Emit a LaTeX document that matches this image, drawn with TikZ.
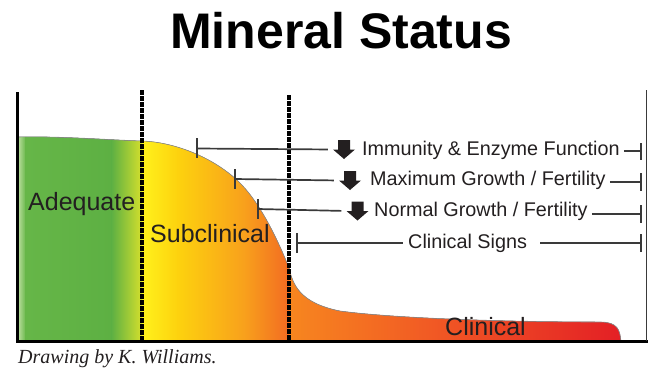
\documentclass[tikz,border=0pt]{standalone}
\usepackage{fontspec}
\setmainfont{Liberation Sans}
\newfontfamily\capfont{Liberation Serif}
\definecolor{txt}{HTML}{231F20}
\definecolor{barcol}{HTML}{3A3A3A}
\definecolor{gA}{HTML}{C4E3A8}
\definecolor{gB}{HTML}{66B648}
\definecolor{gC}{HTML}{5DB043}
\definecolor{gD}{HTML}{D6E02C}
\definecolor{yA}{HTML}{FFF21C}
\definecolor{yB}{HTML}{FDD20E}
\definecolor{yC}{HTML}{F8A01C}
\definecolor{yD}{HTML}{F26A22}
\definecolor{rA}{HTML}{F7861F}
\definecolor{rB}{HTML}{F15A24}
\definecolor{rC}{HTML}{E31E25}
\begin{document}
\begin{tikzpicture}[x=1pt,y=-1pt,
  lbl/.style={font=\fontsize{19.8}{22}\selectfont, anchor=base west, inner sep=0pt, text=txt},
  zone/.style={font=\fontsize{25}{28}\selectfont, anchor=base west, inner sep=0pt, text=txt},
  bar/.style={draw=barcol, line width=1.7pt},
  divider/.style={draw=black, line width=3.6pt, dash pattern=on 5pt off 1pt},
  axisline/.style={draw=black, line width=3pt},
  iconbox/.style={minimum width=22pt, minimum height=19pt, inner sep=0pt},
  downarrow/.pic={\fill[txt] (-6,-9.5) -- (6,-9.5) -- (6,0) -- (11,0) -- (0,9.5) -- (-11,0) -- (-6,0) -- cycle;}
]
\useasboundingbox (0,0) rectangle (648,367);

% title
\node[font=\bfseries\fontsize{50}{52}\selectfont, anchor=base, inner sep=0pt] (title) at (341,48) {Mineral Status};

% filled curve
\begin{scope}
\clip (18,137) .. controls (60,136) and (110,140) .. (142,141)
  .. controls (175,142) and (215,158) .. (240,183)
  .. controls (262,205) and (280,245) .. (289,268)
  .. controls (293,285) and (300,303) .. (340,311)
  .. controls (400,319) and (520,322) .. (600,322)
  .. controls (618,322) and (620,330) .. (621,342)
  -- (18,342) -- cycle;
\fill[left color=gA, right color=gB] (17,120) rectangle (26,343);
\fill[left color=gB, right color=gC] (25.5,120) rectangle (112,343);
\fill[left color=gC, right color=gD] (111.5,120) rectangle (142.5,343);
\fill[left color=yA, right color=yB] (142,120) rectangle (178,343);
\fill[left color=yB, right color=yC] (177.5,120) rectangle (245,343);
\fill[left color=yC, right color=yD] (244.5,120) rectangle (289.5,343);
\fill[left color=rA, right color=rB] (289,120) rectangle (430,343);
\fill[left color=rB, right color=rC] (429.5,120) rectangle (625,343);
\end{scope}
\draw[black!45, line width=0.6pt] (18,137) .. controls (60,136) and (110,140) .. (142,141)
  .. controls (175,142) and (215,158) .. (240,183)
  .. controls (262,205) and (280,245) .. (289,268)
  .. controls (293,285) and (300,303) .. (340,311)
  .. controls (400,319) and (520,322) .. (600,322)
  .. controls (618,322) and (620,330) .. (621,342);

% axes and frame
\coordinate (ax0) at (17,92);
\coordinate (ax1) at (17,341);
\coordinate (ax2) at (648,341);
\draw[axisline] (ax0) -- (ax1) -- (ax2);
\coordinate (fr0) at (646.5,90);
\coordinate (fr1) at (646.5,341);
\draw[barcol, line width=1.2pt] (fr0) -- (fr1);

% dividers
\coordinate (d1t) at (142,90);
\coordinate (d1b) at (142,341);
\coordinate (d2t) at (289,95);
\coordinate (d2b) at (289,341);
\draw[divider] (d1t) -- (d1b);
\draw[divider] (d2t) -- (d2b);

% zone labels
\node[zone] (adequate) at (28,210) {Adequate};
\node[zone] (subclin) at (150,242) {Subclinical};
\node[zone] (clin) at (445,335) {Clinical};

% bar 1
\coordinate (L1) at (197,148.5);
\coordinate (L1a) at (197,138);
\coordinate (L1b) at (197,158);
\node[iconbox] (a1) at (344,149.5) {};
\pic at (a1) {downarrow};
\node[lbl] (t1) at (362,155) {Immunity \& Enzyme Function};
\coordinate (R1) at (641,151);
\coordinate (R1a) at (641,143);
\coordinate (R1b) at (641,160);
\draw[bar] (L1a) -- (L1b);
\draw[bar, shorten >=5pt] (L1) -- (a1.west);
\draw[bar, shorten <=4pt] (t1.east |- R1) -- (R1);
\draw[bar] (R1a) -- (R1b);

% bar 2
\coordinate (L2) at (235,179);
\coordinate (L2a) at (235,169);
\coordinate (L2b) at (235,189);
\node[iconbox] (a2) at (350,180.5) {};
\pic at (a2) {downarrow};
\node[lbl] (t2) at (370,185) {Maximum Growth / Fertility};
\coordinate (R2) at (641,182);
\coordinate (R2a) at (641,173);
\coordinate (R2b) at (641,191);
\draw[bar] (L2a) -- (L2b);
\draw[bar, shorten >=5pt] (L2) -- (a2.west);
\draw[bar, shorten <=4pt] (t2.east |- R2) -- (R2);
\draw[bar] (R2a) -- (R2b);

% bar 3
\coordinate (L3) at (258,209);
\coordinate (L3a) at (258,199);
\coordinate (L3b) at (258,219);
\node[iconbox] (a3) at (357.5,211) {};
\pic at (a3) {downarrow};
\node[lbl] (t3) at (374,216.5) {Normal Growth / Fertility};
\coordinate (R3) at (641,214);
\coordinate (R3a) at (641,205);
\coordinate (R3b) at (641,223);
\draw[bar] (L3a) -- (L3b);
\draw[bar, shorten >=5pt] (L3) -- (a3.west);
\draw[bar, shorten <=4pt] (t3.east |- R3) -- (R3);
\draw[bar] (R3a) -- (R3b);

% bar 4
\coordinate (L4) at (297,243);
\coordinate (L4a) at (297,233);
\coordinate (L4b) at (297,253);
\node[lbl] (t4) at (408,248) {Clinical Signs};
\coordinate (R4) at (641,243);
\coordinate (R4a) at (641,234);
\coordinate (R4b) at (641,252);
\draw[bar] (L4a) -- (L4b);
\draw[bar, shorten >=5pt] (L4) -- (t4.west |- L4);
\draw[bar, shorten <=13pt] (t4.east |- R4) -- (R4);
\draw[bar] (R4a) -- (R4b);

% caption
\node[anchor=base west, inner sep=0pt, font=\capfont\itshape\fontsize{20}{22}\selectfont, text=txt] (caption) at (18,363) {Drawing by K. Williams.};
\end{tikzpicture}
\end{document}
